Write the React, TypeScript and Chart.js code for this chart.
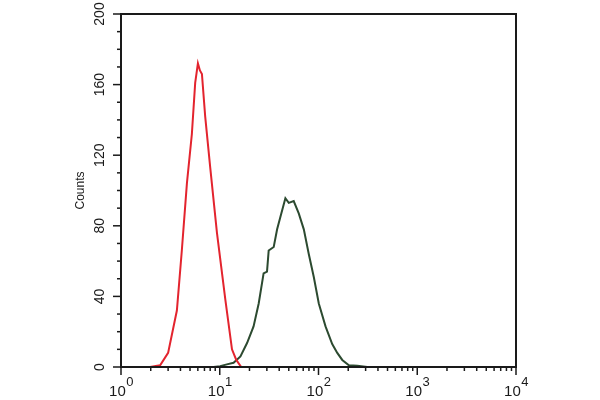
import React, { useEffect, useRef } from 'react';
import { Chart, registerables } from 'chart.js';

Chart.register(...registerables);

// Red histogram (isotype / control)
const redX = [1, 1.97, 2.49, 3.0, 3.68, 4.13, 4.65, 5.22, 5.64, 6.01, 6.3, 6.6, 7.12, 8.01, 9.37, 11.4, 13.3, 14.7, 16.5];
const redY = [0, 0, 1, 8, 32, 66, 104, 132, 161, 172, 168, 166, 142, 113, 76, 38, 10, 4, 0];

// Green histogram (sample)
const greenX = [8.65, 10.1, 11.8, 13.8, 16.2, 18.9, 22.0, 24.8, 27.8, 30.1, 31.3, 35.2, 38.1, 41.1, 46.2, 50.0, 56.1, 63.1, 71.0, 79.7, 89.6, 100.7, 117.8, 137.7, 154.9, 174, 203, 247, 312, 10000];
const greenY = [0, 0.5, 1.5, 2.4, 6, 13.6, 23, 36, 53, 54, 66, 68, 78, 85, 95.6, 93, 94, 87, 78, 64, 51, 36, 23, 13, 8, 4, 1, 0.7, 0, 0];

const yTickValues = [0, 40, 80, 120, 160, 200];
const xDecades = [0, 1, 2, 3, 4];
const yAxisTitle = 'Counts';

const FONT = '"Liberation Sans", Arial, sans-serif';

const framePlugin = {
  id: 'frame',
  afterDraw(chart: any) {
    const { ctx, chartArea } = chart;
    const xs = chart.scales.x;
    const ys = chart.scales.y;
    ctx.save();
    ctx.strokeStyle = '#1a1a1a';
    ctx.lineWidth = 2;
    ctx.strokeRect(chartArea.left, chartArea.top, chartArea.right - chartArea.left, chartArea.bottom - chartArea.top);

    // x tick marks
    ctx.lineWidth = 1.5;
    const bottom = chartArea.bottom;
    for (let d = 0; d < 4; d++) {
      for (let m = 1; m <= 9; m++) {
        const v = m * Math.pow(10, d);
        const px = xs.getPixelForValue(v);
        const len = m === 1 ? 8 : 4;
        ctx.beginPath();
        ctx.moveTo(px, bottom);
        ctx.lineTo(px, bottom + len);
        ctx.stroke();
      }
    }
    {
      const px = xs.getPixelForValue(10000);
      ctx.beginPath();
      ctx.moveTo(px, bottom);
      ctx.lineTo(px, bottom + 8);
      ctx.stroke();
    }
    // y tick marks
    const left = chartArea.left;
    for (let v = 0; v <= 200; v += 10) {
      const py = ys.getPixelForValue(v);
      const len = v % 40 === 0 ? 8 : 4;
      ctx.beginPath();
      ctx.moveTo(left, py);
      ctx.lineTo(left - len, py);
      ctx.stroke();
    }

    // x labels: 10 with superscript exponent
    ctx.fillStyle = '#1a1a1a';
    ctx.textBaseline = 'alphabetic';
    xDecades.forEach((d) => {
      const px = xs.getPixelForValue(Math.pow(10, d));
      ctx.font = '15px ' + FONT;
      const baseW = ctx.measureText('10').width;
      ctx.font = '13px ' + FONT;
      const supW = ctx.measureText(String(d)).width;
      const total = baseW + supW;
      const start = px - total / 2;
      ctx.font = '15px ' + FONT;
      ctx.textAlign = 'left';
      ctx.fillText('10', start, 396);
      ctx.font = '13px ' + FONT;
      ctx.fillText(String(d), start + baseW + 0.5, 386);
    });
    ctx.restore();
  },
};

export default function App() {
  const canvasRef = useRef<HTMLCanvasElement | null>(null);

  useEffect(() => {
    document.body.style.margin = '0';
    const canvas = canvasRef.current;
    if (!canvas) return;
    const chart = new Chart(canvas, {
      type: 'line',
      data: {
        datasets: [
          {
            label: 'control',
            data: redX.map((x, i) => ({ x, y: redY[i] })),
            borderColor: '#e3242e',
            borderWidth: 2,
            pointRadius: 0,
            tension: 0,
            fill: false,
          },
          {
            label: 'sample',
            data: greenX.map((x, i) => ({ x, y: greenY[i] })),
            borderColor: '#2c4a30',
            borderWidth: 2,
            pointRadius: 0,
            tension: 0,
            fill: false,
          },
        ],
      },
      plugins: [framePlugin],
      options: {
        animation: false,
        responsive: false,
        maintainAspectRatio: false,
        layout: { padding: { left: 73, right: 84, top: 14, bottom: 0 } },
        plugins: {
          legend: { display: false },
          tooltip: { enabled: false },
        },
        scales: {
          x: {
            type: 'logarithmic',
            min: 1,
            max: 10000,
            grid: { display: false },
            border: { display: false },
            ticks: { display: false },
            afterFit: (scale: any) => {
              scale.height = 33;
            },
          },
          y: {
            type: 'linear',
            min: 0,
            max: 200,
            afterBuildTicks: (scale: any) => {
              scale.ticks = yTickValues.map((v) => ({ value: v }));
            },
            grid: { display: true, drawOnChartArea: false, drawTicks: true, tickLength: 8, color: 'transparent', tickColor: 'transparent' },
            border: { display: false },
            ticks: {
              minRotation: 90,
              maxRotation: 90,
              crossAlign: 'center',
              padding: 1,
              color: '#1a1a1a',
              font: { family: FONT, size: 14 },
              callback: (v: any) => String(v),
            },
            title: {
              display: true,
              text: yAxisTitle,
              color: '#1a1a1a',
              font: { family: FONT, size: 12 },
              padding: { top: 0, bottom: 0 },
            },
            afterFit: (scale: any) => {
              scale.width = 48;
            },
          },
        },
      },
    });
    return () => chart.destroy();
  }, []);

  return (
    <div style={{ position: 'absolute', left: 0, top: 0, width: 600, height: 400, background: '#fff' }}>
      <canvas ref={canvasRef} width={600} height={400} style={{ width: 600, height: 400 }} />
    </div>
  );
}
